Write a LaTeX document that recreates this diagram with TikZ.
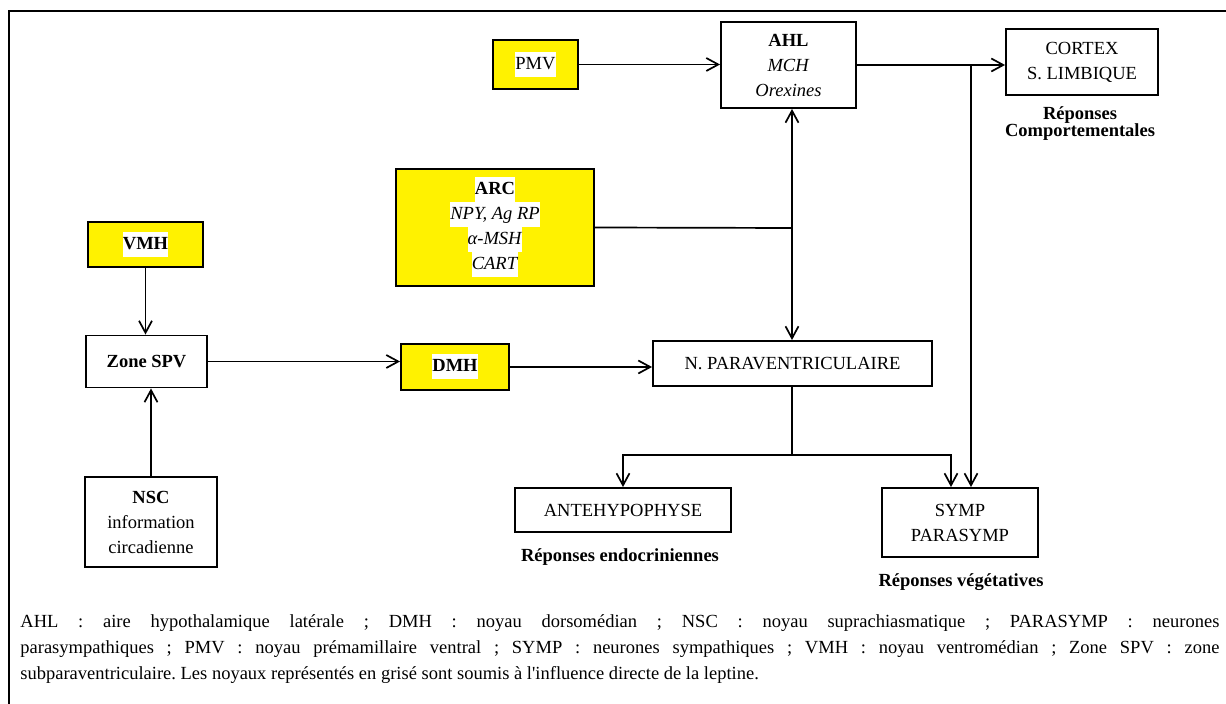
\documentclass[tikz,border=0pt]{standalone}
\usepackage{fontspec}
\setmainfont{Liberation Serif}
\usepackage{tikz}
\usetikzlibrary{arrows.meta, positioning}
\newcommand{\hw}[1]{{\setlength{\fboxsep}{0pt}\colorbox{white}{\strut #1}}}

\begin{document}
\begin{tikzpicture}[x=0.5pt, y=-0.5pt,
>={Straight Barb[length=6pt,width=6.5pt]},
box/.style={rectangle, draw, line width=0.95pt, inner sep=0pt, align=center, font=\fontsize{9.25}{12.5}\selectfont},
yellowbox/.style={box, fill=yellow},
response/.style={align=center, inner sep=0pt, font=\fontsize{9.25}{8.5}\selectfont\bfseries},
wire/.style={line width=0.85pt},
]
\useasboundingbox (0,0) rectangle (1226,704);
\draw[line width=1.1pt] (9,704) -- (9,11) -- (1226,11);

%Nodes
\node[yellowbox, minimum width=42.5pt, minimum height=24.5pt] at (535.5,64.5) (PMV) {\hw{PMV}};
\node[box, minimum width=67.5pt, minimum height=43pt] at (788.5,65) (AHL) {\textbf{AHL}\\\textit{MCH}\\\textit{Orexines}};
\node[box, minimum width=76pt, minimum height=33pt] at (1082,62) (CTX) {CORTEX\\S. LIMBIQUE};
\node[yellowbox, minimum width=99pt, minimum height=58.5pt] at (495,227.5) (ARC) {\hw{\textbf{ARC}}\\\hw{\textit{NPY, Ag RP}}\\\hw{\textit{α-MSH}}\\\hw{\textit{CART}}};
\node[yellowbox, minimum width=57.5pt, minimum height=22.5pt] at (145.5,244.5) (VMH) {\hw{\textbf{VMH}}};
\node[box, minimum width=60.5pt, minimum height=26pt] at (146.5,361.5) (SPV) {\textbf{Zone SPV}};
\node[yellowbox, minimum width=54pt, minimum height=23pt] at (455,367) (DMH) {\hw{\textbf{DMH}}};
\node[box, minimum width=139.5pt, minimum height=22.5pt] at (792.5,363.5) (PVN) {N. PARAVENTRICULAIRE};
\node[box, minimum width=66pt, minimum height=45pt] at (151,522) (NSC) {\textbf{NSC}\\information\\circadienne};
\node[box, minimum width=108pt, minimum height=22pt] at (623,510) (ANTE) {ANTEHYPOPHYSE};
\node[box, minimum width=78pt, minimum height=34.5pt] at (960,522.5) (SYMP) {SYMP\\PARASYMP};

%Responses
\node[response] at (1080,124) (RCOMP) {Réponses\\Comportementales};
\node[response] at (620,557) (RENDO) {Réponses endocriniennes};
\node[response] at (961,582) (RVEG) {Réponses végétatives};

%Legend
\node[anchor=base west, inner sep=0pt] at (20,628) (LEG) {\parbox[t]{599.5pt}{\fontsize{9.25}{13}\selectfont\hyphenpenalty=10000\frenchspacing
AHL : aire hypothalamique latérale ; DMH : noyau dorsomédian ; NSC : noyau suprachiasmatique ; PARASYMP : neurones\linebreak
parasympathiques ; PMV : noyau prémamillaire ventral ; SYMP : neurones sympathiques ; VMH : noyau ventromédian ; Zone SPV : zone\linebreak
subparaventriculaire. Les noyaux représentés en grisé sont soumis à l\textquotesingle influence directe de la leptine.}};

%Lines
\coordinate (jc) at (971,65);
\coordinate (jv) at (792,228);
\coordinate (jb) at (792,455);
\coordinate (js) at (951,455);
\draw [->] (PMV.east) [wire] -- (PMV.east -| AHL.west);
\draw [->] (AHL.east) [wire] -- (AHL.east -| CTX.west);
\draw [->] (jc) [wire] -- (jc |- SYMP.north);
\draw [<->] (jv |- AHL.south) [wire] -- (jv |- PVN.north);
\draw (ARC.east) [wire] -- (jv);
\draw [->] (VMH.south) [wire] -- (VMH.south |- SPV.north);
\draw [->] (NSC.north) [wire] -- (NSC.north |- SPV.south);
\draw [->] (SPV.east) [wire] -- (SPV.east -| DMH.west);
\draw [->] (DMH.east) [wire] -- (DMH.east -| PVN.west);
\draw (PVN.south -| jb) [wire] -- (jb);
\draw [->] (jb) [wire] -| (ANTE.north);
\draw [->] (jb) [wire] -- (js) -- (js |- SYMP.north);

\end{tikzpicture}
\end{document}
